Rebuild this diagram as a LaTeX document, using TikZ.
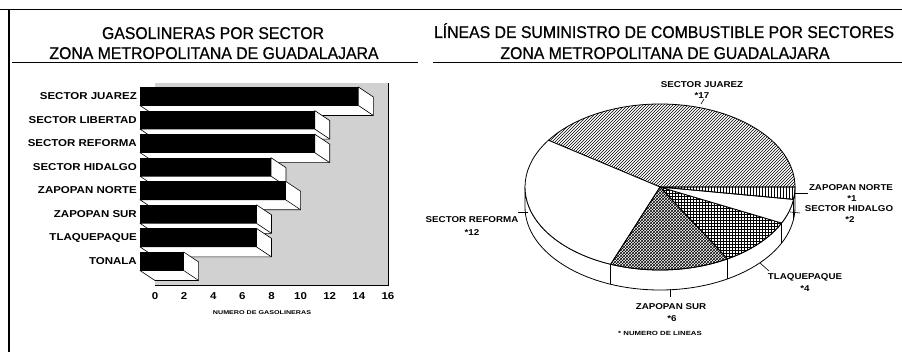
\documentclass[tikz,border=0pt]{standalone}
\usepackage{fontspec}
\setmainfont{Liberation Sans}
\newfontfamily\titlefont[FakeStretch=0.93,FakeBold=0.6]{Liberation Sans}
\newfontfamily\labfont[FakeStretch=1.15]{Liberation Sans}
\newfontfamily\smallfont[FakeStretch=1.3]{Liberation Sans}
\usetikzlibrary{patterns}
\tikzset{
 ttl/.style={inner sep=0pt, anchor=base, font=\titlefont\fontsize{17}{20}\selectfont},
 barlab/.style={inner sep=0pt, anchor=east, font=\labfont\bfseries\fontsize{10}{12}\selectfont},
 axnum/.style={inner sep=0pt, font=\labfont\bfseries\fontsize{10}{12}\selectfont},
 pielab/.style={inner sep=0pt, font=\labfont\bfseries\fontsize{8.5}{10}\selectfont},
 tinylab/.style={inner sep=0pt, font=\smallfont\bfseries\fontsize{5.5}{7}\selectfont},
 framel/.style={line width=1.3pt},
 uline/.style={line width=0.8pt},
 barface/.style={fill=white, draw=black, line width=0.6pt, line join=round},
 barfront/.style={fill=black},
 backwall/.style={fill=black!18},
 pieslice/.style={draw=black, line width=0.8pt, line join=round},
 leader/.style={line width=0.6pt},
}
\begin{document}
\begin{tikzpicture}[x=1pt,y=-1pt]
\useasboundingbox (0,0) rectangle (902,352);
\fill[white] (0,0) rectangle (902,352);
% frame
\draw[framel] (0,9.5) -- (902,9.5);
\draw[framel] (9,9.5) -- (9,352);
% titles
\node[ttl] (t1a) at (213,39) {GASOLINERAS POR SECTOR};
\node[ttl] (t1b) at (214,59) {ZONA METROPOLITANA DE GUADALAJARA};
\node[ttl] (t2a) at (664,38) {LÍNEAS DE SUMINISTRO DE COMBUSTIBLE POR SECTORES};
\node[ttl] (t2b) at (665,59) {ZONA METROPOLITANA DE GUADALAJARA};
\draw[uline] (12,62.5) -- (418,62.5);
\draw[uline] (433,62.5) -- (902,62.5);
% bar chart back wall
\fill[backwall] (155,83) rectangle (388,285);
\draw[line width=0.7pt] (388,83) -- (388,285) -- (155,285);
% bars
\foreach \lab/\v [count=\i] in {SECTOR JUAREZ/15, SECTOR LIBERTAD/12, SECTOR REFORMA/12, SECTOR HIDALGO/9, ZAPOPAN NORTE/10, ZAPOPAN SUR/8, TLAQUEPAQUE/8, TONALA/3}{
 \pgfmathsetmacro\yt{87+(\i-1)*23.57}
 \pgfmathsetmacro\xe{140+\v*14.56}
 \draw[barface] (\xe,\yt) -- (\xe+15,\yt+10) -- (\xe+15,\yt+28.5) -- (155,\yt+28.5) -- (140,\yt+18.5) -- (\xe,\yt+18.5) -- cycle;
 \draw[barface] (\xe,\yt+18.5) -- (\xe+15,\yt+28.5);
 \fill[barfront] (140,\yt) rectangle (\xe,\yt+18.5);
 \node[barlab] (lab\i) at (137,\yt+9.25) {\lab};
}
% axis
\foreach \n in {0,2,...,16} \node[axnum] (ax\n) at ({155+\n*14.56},296) {\n};
\node[tinylab] (axt) at (262,313) {NUMERO DE GASOLINERAS};
% pie side wall
\coordinate (pc) at (660,187);
\draw[pieslice, fill=white] (525,187) -- (525,207) arc[start angle=180,end angle=0,x radius=135,y radius=83] -- (795,187) arc[start angle=0,end angle=180,x radius=135,y radius=83] -- cycle;
\foreach \a in {111.429,60,25.714,8.571} \draw[pieslice] ([shift={(pc)}]\a:135 and 83) -- ++(0,20);
% pie slices
\draw[pieslice, pattern=north east lines] (pc) -- ([shift={(pc)}]0:135 and 83) arc[start angle=0,end angle=-145.714,x radius=135,y radius=83] -- cycle;
\draw[pieslice, fill=white] (pc) -- ([shift={(pc)}]-145.714:135 and 83) arc[start angle=-145.714,end angle=-248.571,x radius=135,y radius=83] -- cycle;
\draw[pieslice, pattern=crosshatch] (pc) -- ([shift={(pc)}]-248.571:135 and 83) arc[start angle=-248.571,end angle=-300,x radius=135,y radius=83] -- cycle;
\draw[pieslice, pattern=grid] (pc) -- ([shift={(pc)}]-300:135 and 83) arc[start angle=-300,end angle=-334.286,x radius=135,y radius=83] -- cycle;
\draw[pieslice, fill=white] (pc) -- ([shift={(pc)}]-334.286:135 and 83) arc[start angle=-334.286,end angle=-351.429,x radius=135,y radius=83] -- cycle;
\draw[pieslice, pattern=vertical lines] (pc) -- ([shift={(pc)}]-351.429:135 and 83) arc[start angle=-351.429,end angle=-360,x radius=135,y radius=83] -- cycle;
% pie labels
\node[pielab] (lj) at (702,85) {SECTOR JUAREZ};
\node[pielab] (lj2) at (702,95.5) {*17};
\coordinate (jA) at (701,104); \coordinate (jB) at (704,99);
\draw[leader] (jA) -- (jB);
\node[pielab] (lzn) at (851,188) {ZAPOPAN NORTE};
\node[pielab] (lzn2) at (852,198.5) {*1};
\coordinate (znA) at (794,193); \coordinate (znB) at (808,193);
\draw[leader] (znA) -- (znB);
\node[pielab] (lh) at (849,208.5) {SECTOR HIDALGO};
\node[pielab] (lh2) at (850,219.5) {*2};
\coordinate (hA) at (790,212); \coordinate (hB) at (800,213);
\draw[leader] (hA) -- (hB);
\node[pielab] (lt) at (805,277) {TLAQUEPAQUE};
\node[pielab] (lt2) at (805,289) {*4};
\coordinate (tA) at (760,263); \coordinate (tB) at (769,271);
\draw[leader] (tA) -- (tB);
\node[pielab] (lzs) at (671,307) {ZAPOPAN SUR};
\node[pielab] (lzs2) at (672,318.5) {*6};
\coordinate (zsA) at (670,289); \coordinate (zsB) at (670,297);
\draw[leader] (zsA) -- (zsB);
\node[pielab] (lr) at (472,220) {SECTOR REFORMA};
\node[pielab] (lr2) at (472,233) {*12};
\coordinate (rA) at (518,212); \coordinate (rB) at (528,212);
\draw[leader] (rB) -- (rA);
\node[tinylab, font=\smallfont\bfseries\fontsize{6}{7}\selectfont] (fn) at (660,333) {* NUMERO DE LINEAS};
\end{tikzpicture}
\end{document}
